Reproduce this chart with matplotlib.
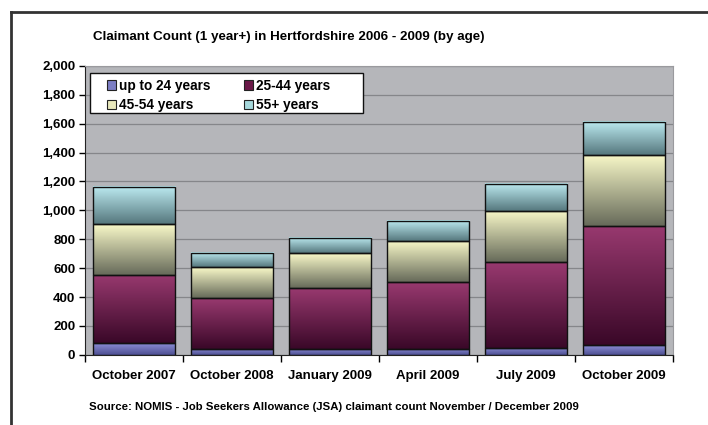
import numpy as np
import matplotlib.pyplot as plt
from matplotlib.colors import LinearSegmentedColormap
from matplotlib.patches import Patch, Rectangle
from matplotlib.lines import Line2D

plt.rcParams['font.family'] = ['Liberation Sans', 'DejaVu Sans']
plt.rcParams['font.weight'] = 'bold'

# Data
periods = ['October 2007', 'October 2008', 'January 2009', 'April 2009', 'July 2009', 'October 2009']
age_groups = ['up to 24 years', '25-44 years', '45-54 years', '55+ years']
up_to_24 = [80, 44, 44, 44, 51, 67]
age_25_44 = [473, 350, 422, 459, 590, 825]
age_45_54 = [351, 212, 237, 286, 357, 492]
age_55_plus = [261, 102, 104, 140, 187, 231]
series = [up_to_24, age_25_44, age_45_54, age_55_plus]

# gradient (top colour, bottom colour) and legend swatch colour per series
grad_colors = [('#8c8ed6', '#4d4f92'),
               ('#98396f', '#3a0828'),
               ('#f8f8c8', '#676b5a'),
               ('#bceaf0', '#56787e')]
swatch_colors = ['#7c7ec4', '#6a1848', '#e8e8bc', '#a6d8dc']

fig = plt.figure(figsize=(7.08, 4.25), dpi=100)
ax = fig.add_axes([0.120, 0.165, 0.831, 0.680])
ax.set_facecolor('#b5b6ba')

x = np.arange(len(periods))
bottom = np.zeros(len(periods))
for vals, (ctop, cbot) in zip(series, grad_colors):
    bars = ax.bar(x, vals, width=0.84, bottom=bottom, facecolor='none',
                  edgecolor='#111111', linewidth=1.0, zorder=4)
    cmap = LinearSegmentedColormap.from_list('g', [cbot, ctop])
    grad = np.linspace(0, 1, 64).reshape(-1, 1)
    for b in bars:
        x0, y0 = b.get_x(), b.get_y()
        ax.imshow(grad, cmap=cmap, origin='lower', aspect='auto',
                  extent=(x0, x0 + b.get_width(), y0, y0 + b.get_height()),
                  zorder=3, interpolation='bilinear')
    bottom += np.array(vals)

ax.set_xlim(-0.5, len(periods) - 0.5)
ax.set_ylim(0, 2000)
ax.set_yticks(np.arange(0, 2001, 200))
ax.set_yticklabels([f'{v:,}' for v in range(0, 2001, 200)], fontsize=9.5, fontweight='bold')
ax.set_xticks(x)
ax.set_xticklabels(periods, fontsize=9.5, fontweight='bold')
ax.set_xticks(np.arange(-0.5, len(periods)), minor=True)
ax.tick_params(axis='x', which='major', length=0, pad=11)
ax.tick_params(axis='x', which='minor', length=5, direction='out', width=1)
ax.tick_params(axis='y', length=4, direction='out', width=1, pad=3)
ax.yaxis.grid(True, color='#85868a', linewidth=0.9, zorder=1)
ax.set_axisbelow(True)
for side in ['top', 'right']:
    ax.spines[side].set_color('#9a9a9e')
    ax.spines[side].set_linewidth(0.8)
ax.spines['left'].set_color('#222222')
ax.spines['bottom'].set_color('#222222')

# legend box drawn separately so its padding matches the original
ax.add_patch(Rectangle((0.0085, 0.837), 0.4645, 0.139, transform=ax.transAxes,
                       facecolor='white', edgecolor='#111111', linewidth=1.0,
                       zorder=6))
# legend fills column-wise, so order entries to read row-wise as in the original
order = [0, 2, 1, 3]
handles = [Patch(facecolor=swatch_colors[i], edgecolor='#222222', linewidth=0.8) for i in order]
labels = [age_groups[i] for i in order]
leg = ax.legend(handles, labels, ncol=2, loc='upper left',
                bbox_to_anchor=(0.037, 0.956), frameon=False,
                prop={'size': 9.8, 'weight': 'bold'},
                handlelength=0.65, handleheight=0.7, handletextpad=0.25,
                columnspacing=2.45, borderpad=0, borderaxespad=0,
                labelspacing=0.42)
leg.set_zorder(7)

fig.text(0.131, 0.913, 'Claimant Count (1 year+) in Hertfordshire 2006 - 2009 (by age)',
         fontsize=9.6, fontweight='bold', va='center', ha='left')
fig.text(0.126, 0.042,
         'Source: NOMIS - Job Seekers Allowance (JSA) claimant count November / December 2009',
         fontsize=8.2, fontweight='bold', va='center', ha='left')

# outer frame (top and left edges visible)
fig.add_artist(Line2D([0.015, 1.0], [0.972, 0.972], color='#333333', linewidth=2))
fig.add_artist(Line2D([0.015, 0.015], [0.0, 0.972], color='#333333', linewidth=2))

fig.savefig('out.png', dpi=100)
